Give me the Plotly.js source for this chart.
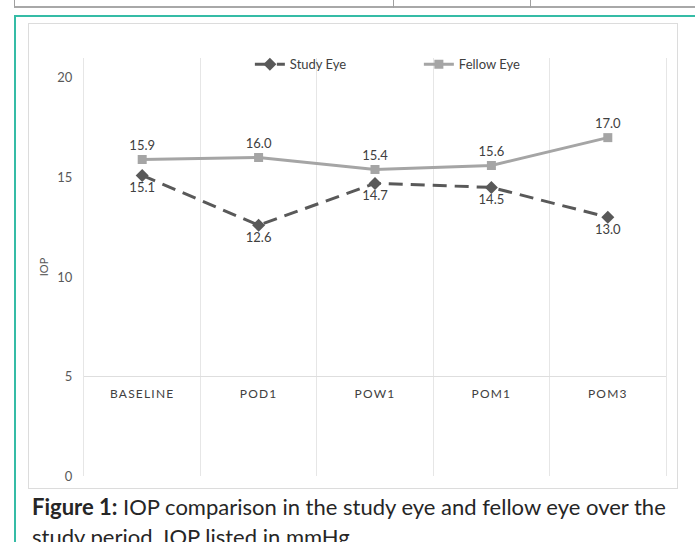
<!DOCTYPE html>
<html>
<head>
<meta charset="utf-8">
<script src="https://cdn.plot.ly/plotly-3.0.1.min.js"></script>
<style>
  html, body { margin: 0; padding: 0; background: #fff; width: 695px; height: 542px; overflow: hidden; }
  #wrap { position: relative; width: 695px; height: 542px; }
  .abs { position: absolute; box-sizing: border-box; }
  #plot { position: absolute; left: 0; top: 0; width: 695px; height: 542px; }
  #caption { position: absolute; left: 32px; top: 492px; width: 650px; font-family: Lato, "Noto Sans", sans-serif; color: #262626; line-height: 30px; white-space: nowrap; }
  .xtick text { letter-spacing: 1.2px; }
</style>
</head>
<body>
<div id="wrap">
  <!-- table fragment at top -->
  <div class="abs" style="left:14px; top:-2px; width:690px; height:10px; border:1px solid #a0a0a0; border-bottom:2px solid #a8a8a8;"></div>
  <div class="abs" style="left:393px; top:0; width:1px; height:8px; background:#a0a0a0;"></div>
  <div class="abs" style="left:530px; top:0; width:1px; height:8px; background:#a0a0a0;"></div>
  <!-- teal frame -->
  <div class="abs" style="left:14px; top:15px; width:684px; height:560px; border:2px solid #35bca6;"></div>
  <!-- inner chart border -->
  <div class="abs" style="left:28px; top:23px; width:650px; height:466px; border:1px solid #dcdcdc;"></div>
  <div id="plot"></div>
  <div id="caption"><b>Figure 1:</b> IOP comparison in the study eye and fellow eye over the<br>study period. IOP listed in mmHg.</div>
</div>
<script>
const categories = ["BASELINE", "POD1", "POW1", "POM1", "POM3"];
const studyEye = [15.1, 12.6, 14.7, 14.5, 13.0];
const fellowEye = [15.9, 16.0, 15.4, 15.6, 17.0];
const yTicks = [0, 5, 10, 15, 20];

const labelFont = { family: "Lato, 'Noto Sans', sans-serif", size: 13, color: "#404040" };

const traces = [
  {
    name: "Study Eye",
    x: categories, y: studyEye,
    type: "scatter", mode: "lines+markers+text",
    line: { color: "#595959", width: 3, dash: "14px,8px" },
    marker: { symbol: "diamond", size: 10, color: "#595959" },
    texttemplate: "%{y:.1f}", textposition: "bottom center",
    textfont: labelFont, cliponaxis: false
  },
  {
    name: "Fellow Eye",
    x: categories, y: fellowEye,
    type: "scatter", mode: "lines+markers+text",
    line: { color: "#A5A5A5", width: 3 },
    marker: { symbol: "square", size: 9, color: "#A5A5A5" },
    texttemplate: "%{y:.1f}", textposition: "top center",
    textfont: labelFont, cliponaxis: false
  }
];

const layout = {
  width: 695, height: 542,
  paper_bgcolor: "rgba(0,0,0,0)", plot_bgcolor: "rgba(0,0,0,0)",
  margin: { l: 84, r: 29, t: 58, b: 66 },
  font: { family: "Lato, 'Noto Sans', sans-serif", color: "#404040" },
  showlegend: true,
  legend: {
    orientation: "h", x: 0.285, xanchor: "left", y: 0.985, yanchor: "middle",
    font: { size: 13, color: "#404040" }, bgcolor: "rgba(0,0,0,0)",
    entrywidth: 124, entrywidthmode: "pixels", traceorder: "normal"
  },
  xaxis: {
    type: "category", range: [-0.5, 4.5],
    tickson: "boundaries", showgrid: true, gridcolor: "#e6e6e6", gridwidth: 1,
    anchor: "free", position: 5 / 21,
    showline: true, linecolor: "#dedede", linewidth: 1,
    ticks: "", zeroline: false, ticklabelstandoff: 6,
    tickfont: { size: 12, color: "#404040" }, fixedrange: true
  },
  yaxis: {
    range: [0, 21], tickvals: yTicks,
    showgrid: false, zeroline: false,
    showline: true, mirror: true, linecolor: "#e6e6e6", linewidth: 1,
    ticks: "",
    ticklabelstandoff: 8,
    tickfont: { size: 13, color: "#595959" },
    title: { text: "IOP", font: { size: 11, color: "#595959" }, standoff: 6 },
    fixedrange: true
  }
};

Plotly.newPlot("plot", traces, layout, { displayModeBar: false, staticPlot: true }).then(() => {
  const cap = document.getElementById("caption");
  const ctx = document.createElement("canvas").getContext("2d");
  const target = 636;
  let size = 21;
  for (let s = 18; s <= 25; s += 0.25) {
    ctx.font = `bold ${s}px Lato`;
    let w = ctx.measureText("Figure 1:").width;
    ctx.font = `${s}px Lato`;
    w += ctx.measureText(" IOP comparison in the study eye and fellow eye over the").width;
    if (w <= target) size = s;
  }
  cap.style.fontSize = size + "px";
});
</script>
</body>
</html>
